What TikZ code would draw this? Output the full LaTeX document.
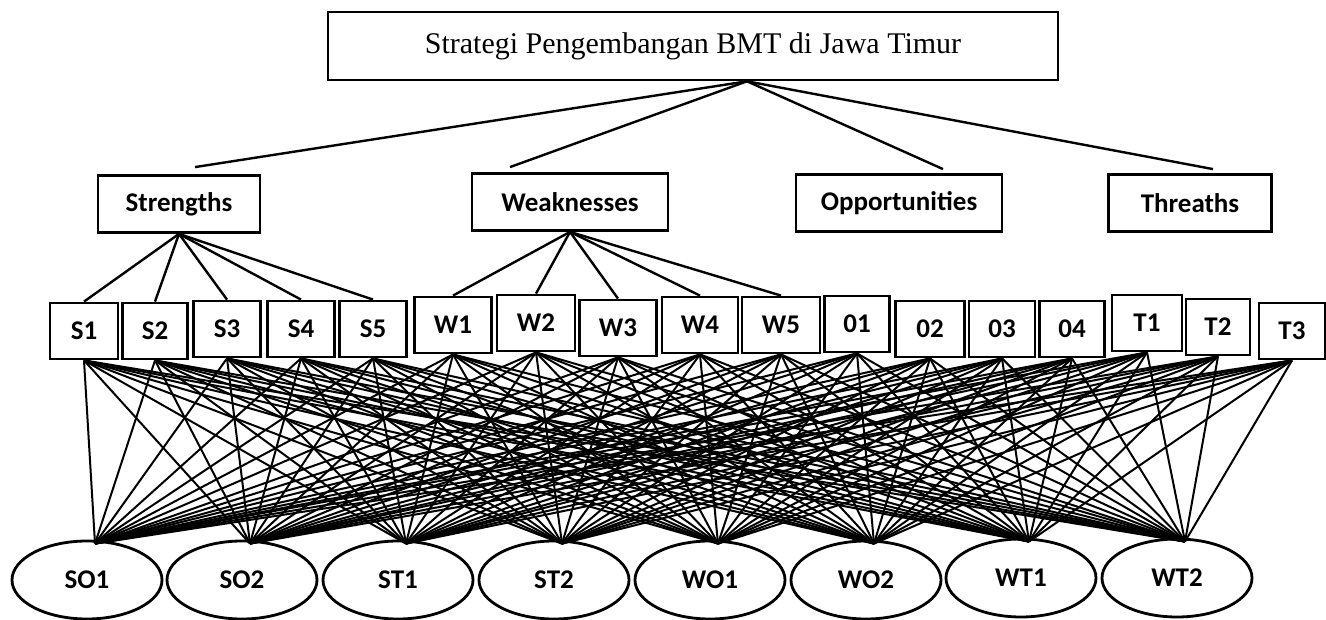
\documentclass[tikz,border=0pt]{standalone}
\usepackage{fontspec}
\setmainfont{Liberation Serif}
\newfontfamily\calibri{Carlito}
\usepackage{tikz}
\usetikzlibrary{shapes.geometric, positioning}
\tikzstyle{goal} = [rectangle, minimum width=730pt, minimum height=68pt, text centered, draw=black, line width=2.6pt, font=\fontsize{30}{36}\selectfont]
\tikzstyle{aspect} = [rectangle, minimum height=57pt, text centered, draw=black, line width=2.8pt, font=\calibri\bfseries\fontsize{27}{32}\selectfont]
\tikzstyle{factor} = [rectangle, minimum height=56pt, text centered, draw=black, line width=2.8pt, font=\calibri\bfseries\fontsize{27}{32}\selectfont]
\tikzstyle{strategy} = [ellipse, minimum width=150pt, minimum height=78pt, text centered, draw=black, line width=2.8pt, font=\calibri\bfseries\fontsize{27}{32}\selectfont]
\tikzstyle{link} = [line width=2.4pt]
\tikzstyle{mesh} = [line width=2pt]

\begin{document}
\begin{tikzpicture}[x=1pt, y=-1pt]
			
			\useasboundingbox (0,0) rectangle (1326,620);
			
			\node (goal) [goal] at (693,46) {Strategi Pengembangan BMT di Jawa Timur};
			
			\node (strengths) [aspect, minimum width=162pt] at (179,204) {Strengths};
			
			\node (weaknesses) [aspect, minimum width=196pt] at (570,202) {Weaknesses};
			
			\node (opportunities) [aspect, minimum width=206pt] at (899,203) {Opportunities};
			
			\node (threaths) [aspect, minimum width=163pt] at (1190,203) {Threaths};
			
			% faktor internal dan eksternal
			\foreach \name/\lab/\px/\py/\bw in {s1/S1/84/331/68, s2/S2/155/331/65, s3/S3/227/329/67, s4/S4/301/329/67, s5/S5/373/329/67,
				w1/W1/453/325/77, w2/W2/536/323/78, w3/W3/618/328/77, w4/W4/700/325/76, w5/W5/781/325/78,
				o1/01/857/324/65, o2/02/930/329/69, o3/03/1002/329/66, o4/04/1072/329/65,
				t1/T1/1147/323/70, t2/T2/1218/327/64, t3/T3/1292/331/66}
				\node (\name) [factor, minimum width=\bw pt] at (\px,\py) {\lab};
			
			% alternatif strategi
			\node (so1) [strategy] at (87,580) {SO1};
			\node (so2) [strategy] at (242,580) {SO2};
			\node (st1) [strategy] at (398,580) {ST1};
			\node (st2) [strategy] at (554,580) {ST2};
			\node (wo1) [strategy] at (710,580) {WO1};
			\node (wo2) [strategy] at (866,580) {WO2};
			\node (wt1) [strategy] at (1021,578) {WT1};
			\node (wt2) [strategy] at (1177,578) {WT2};
			
			
			\draw [link] ([xshift=54pt]goal.south) -- ([xshift=16pt, yshift=7pt]strengths.north);
			\draw [link] ([xshift=54pt]goal.south) -- ([xshift=-60pt, yshift=5pt]weaknesses.north);
			\draw [link] ([xshift=54pt]goal.south) -- ([xshift=44pt, yshift=4pt]opportunities.north);
			\draw [link] ([xshift=54pt]goal.south) -- ([xshift=23pt, yshift=4pt]threaths.north);
			
			\foreach \f in {s1,s2,s3,s4,s5}
				\draw [link] (strengths.south) -- (\f.north);
			\foreach \f in {w1,w2,w3,w4,w5}
				\draw [link] (weaknesses.south) -- (\f.north);
			
			\foreach \f in {s1,s2,s3,s4,s5,w1,w2,w3,w4,w5,o1,o2,o3,o4,t1,t2,t3}
				\foreach \g in {so1,so2,st1,st2,wo1,wo2,wt1,wt2}
					\draw [mesh] (\f.south) -- ([xshift=8pt, yshift=-4pt]\g.north);
			
		\end{tikzpicture}
\end{document}
